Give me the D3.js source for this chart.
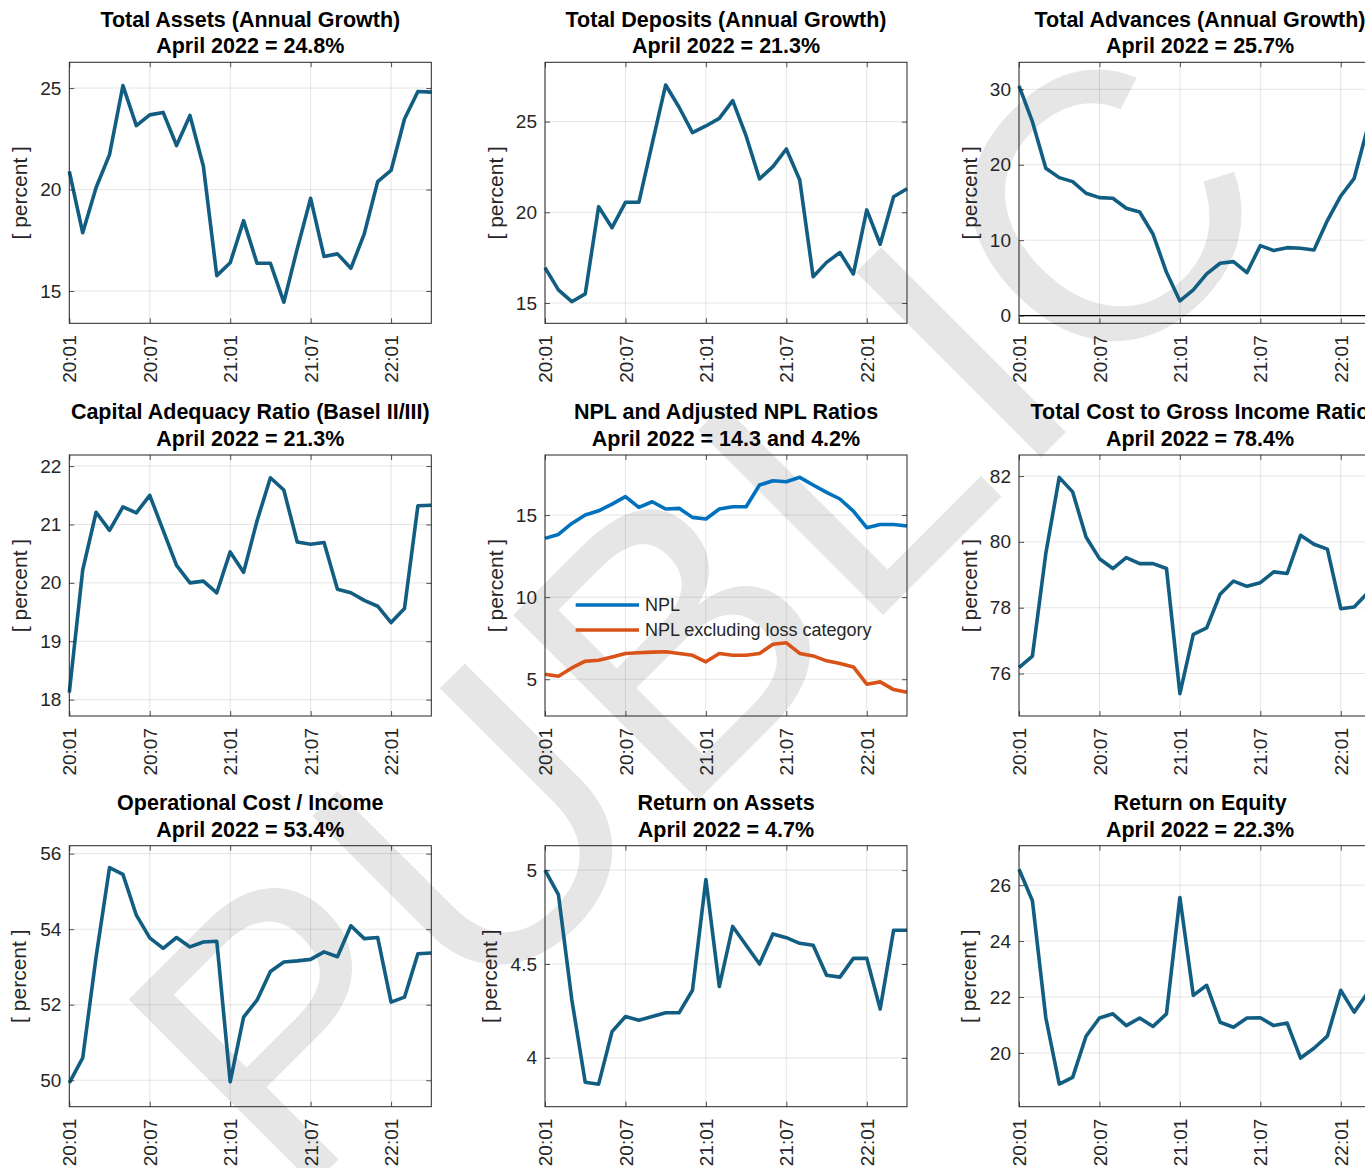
<!DOCTYPE html>
<html>
<head>
<meta charset="utf-8">
<script src="https://cdn.jsdelivr.net/npm/d3@7"></script>
<style>
  html, body { margin: 0; padding: 0; background: #fff; overflow: hidden; }
  svg { display: block; font-family: "Liberation Sans", Arial, Helvetica, sans-serif; }
</style>
</head>
<body>
<svg id="chart" width="1365" height="1168"></svg>
<script>
// ---------- data ----------
const months = ["20:01","20:02","20:03","20:04","20:05","20:06","20:07","20:08","20:09","20:10","20:11","20:12",
                "21:01","21:02","21:03","21:04","21:05","21:06","21:07","21:08","21:09","21:10","21:11","21:12",
                "22:01","22:02","22:03","22:04"];
const xTickIdx = [0, 6, 12, 18, 24];

const totalAssets   = [20.9,17.87,20.1,21.72,25.12,23.15,23.68,23.8,22.17,23.65,21.15,15.76,16.39,18.47,16.37,16.37,14.45,17.08,19.57,16.7,16.83,16.12,17.82,20.39,20.94,23.48,24.83,24.8];
const totalDeposits = [16.95,15.72,15.07,15.5,20.31,19.15,20.55,20.55,23.8,27.02,25.79,24.39,24.76,25.18,26.16,24.21,21.84,22.52,23.49,21.78,16.45,17.24,17.78,16.6,20.13,18.24,20.86,21.3];
const totalAdvances = [30.45,25.7,19.53,18.29,17.76,16.22,15.64,15.55,14.23,13.74,10.78,5.74,1.94,3.4,5.52,6.94,7.16,5.7,9.28,8.62,9.01,8.93,8.7,12.6,15.86,18.2,24.9,25.7];
const car           = [18.12,20.22,21.21,20.9,21.3,21.2,21.5,20.9,20.3,20.0,20.03,19.83,20.53,20.18,21.06,21.8,21.59,20.7,20.66,20.69,19.89,19.83,19.7,19.6,19.32,19.56,21.32,21.33];
const npl           = [13.58,13.82,14.49,15.0,15.26,15.67,16.12,15.47,15.81,15.37,15.41,14.86,14.76,15.37,15.51,15.51,16.83,17.09,17.03,17.3,16.83,16.38,15.98,15.24,14.23,14.43,14.43,14.33];
const nplAdj        = [5.3,5.18,5.69,6.1,6.16,6.36,6.57,6.61,6.65,6.67,6.57,6.46,6.06,6.57,6.46,6.46,6.57,7.13,7.22,6.57,6.42,6.12,5.96,5.75,4.7,4.84,4.37,4.2];
const costIncome    = [76.18,76.53,79.65,81.96,81.52,80.15,79.49,79.19,79.52,79.34,79.34,79.19,75.39,77.19,77.39,78.41,78.81,78.65,78.76,79.09,79.04,80.2,79.93,79.78,77.97,78.02,78.45,78.4];
const opCost        = [49.93,50.59,53.27,55.63,55.45,54.37,53.77,53.49,53.78,53.53,53.66,53.68,49.96,51.67,52.12,52.88,53.13,53.16,53.2,53.4,53.27,54.09,53.75,53.78,52.07,52.2,53.35,53.37];
const roa           = [5.0,4.87,4.31,3.87,3.86,4.14,4.22,4.2,4.22,4.24,4.24,4.36,4.95,4.38,4.7,4.6,4.5,4.66,4.64,4.61,4.6,4.44,4.43,4.53,4.53,4.26,4.68,4.68];
const roe           = [26.57,25.44,21.26,18.89,19.13,20.6,21.25,21.4,20.98,21.25,20.95,21.4,25.56,22.06,22.42,21.1,20.92,21.25,21.26,20.98,21.07,19.82,20.17,20.6,22.24,21.46,22.15,22.3];

const titles = [
  ["Total Assets (Annual Growth)", "April 2022 = 24.8%"],
  ["Total Deposits (Annual Growth)", "April 2022 = 21.3%"],
  ["Total Advances (Annual Growth)", "April 2022 = 25.7%"],
  ["Capital Adequacy Ratio (Basel II/III)", "April 2022 = 21.3%"],
  ["NPL and Adjusted NPL Ratios", "April 2022 = 14.3 and 4.2%"],
  ["Total Cost to Gross Income Ratio", "April 2022 = 78.4%"],
  ["Operational Cost / Income", "April 2022 = 53.4%"],
  ["Return on Assets", "April 2022 = 4.7%"],
  ["Return on Equity", "April 2022 = 22.3%"]
];
const yDomains = [[13.41,26.27],[13.88,28.27],[-1.02,33.58],[17.72,22.19],[2.76,18.66],[74.71,82.64],[49.3,56.21],[3.74,5.13],[18.08,27.41]];
const yTicks = [[15,20,25],[15,20,25],[0,10,20,30],[18,19,20,21,22],[5,10,15],[76,78,80,82],[50,52,54,56],[4,4.5,5],[20,22,24,26]];
const seriesByPanel = [[totalAssets],[totalDeposits],[totalAdvances],[car],[npl,nplAdj],[costIncome],[opCost],[roa],[roe]];
const legendLabels = ["NPL", "NPL excluding loss category"];

// ---------- style / layout ----------
const mainColor = "rgb(18,94,130)";
const nplColors = ["#0072BD", "#D95319"];
const axisColor = "#262626";
const colLeft = [69.3, 545, 1019];
const rowTop = [62.3, 455, 845.7];
const W = 362, H = 261;

const svg = d3.select("#chart");
svg.append("rect").attr("width", 1365).attr("height", 1168).attr("fill", "#fff");

// watermark
svg.append("text")
  .attr("transform", "translate(291.5,1206.5) rotate(-45)")
  .attr("font-size", 380)
  .attr("letter-spacing", 8)
  .attr("fill", "#e6e6e6")
  .text("PUBLIC");

const x = d3.scaleLinear().domain([0, months.length - 1]).range([0, W]);

seriesByPanel.forEach((seriesList, p) => {
  const r = Math.floor(p / 3), c = p % 3;
  const g = svg.append("g").attr("transform", `translate(${colLeft[c]},${rowTop[r]})`);
  const y = d3.scaleLinear().domain(yDomains[p]).range([H, 0]);

  // grid
  const grid = g.append("g").attr("stroke", axisColor).attr("stroke-opacity", 0.15).attr("stroke-width", 0.8);
  xTickIdx.forEach(i => grid.append("line").attr("x1", x(i)).attr("x2", x(i)).attr("y1", 0).attr("y2", H));
  yTicks[p].forEach(v => grid.append("line").attr("x1", 0).attr("x2", W).attr("y1", y(v)).attr("y2", y(v)));

  // zero line
  if (yDomains[p][0] < 0) {
    g.append("line").attr("x1", 0).attr("x2", W).attr("y1", y(0)).attr("y2", y(0))
      .attr("stroke", "#000").attr("stroke-width", 1.2);
  }

  // lines
  const line = d3.line().x((d, i) => x(i)).y(d => y(d));
  seriesList.forEach((s, k) => {
    const col = seriesList.length > 1 ? nplColors[k] : mainColor;
    g.append("path").datum(s).attr("d", line).attr("fill", "none")
      .attr("stroke", col).attr("stroke-width", 3.6).attr("stroke-linejoin", "round");
  });

  // axes
  const xb = g.append("g").attr("transform", `translate(0,${H})`)
    .call(d3.axisBottom(x).tickValues(xTickIdx).tickFormat(i => months[i]).tickSize(-5).tickPadding(0));
  xb.selectAll("text")
    .attr("x", 0).attr("y", 0).attr("dy", "0.35em")
    .attr("text-anchor", "end")
    .attr("transform", "translate(0,12) rotate(-90)");
  g.append("g").call(d3.axisTop(x).tickValues(xTickIdx).tickFormat("").tickSize(-5));
  const yl = g.append("g").call(d3.axisLeft(y).tickValues(yTicks[p]).tickFormat(d3.format("~g")).tickSize(-5).tickPadding(8));
  g.append("g").attr("transform", `translate(${W},0)`).call(d3.axisRight(y).tickValues(yTicks[p]).tickFormat("").tickSize(-5));

  g.selectAll(".domain").remove();
  g.selectAll(".tick line").attr("stroke", axisColor).attr("stroke-width", 0.8);
  g.selectAll(".tick text").attr("fill", axisColor).attr("font-size", 19)
    .attr("font-family", "'Liberation Sans', Arial, Helvetica, sans-serif");

  // box
  g.append("rect").attr("width", W).attr("height", H).attr("fill", "none")
    .attr("stroke", axisColor).attr("stroke-width", 1);

  // y label
  let maxW = 0;
  yl.selectAll("text").each(function() { maxW = Math.max(maxW, this.getBBox().width); });
  const lx = -8 - maxW - 13.3;
  g.append("text").attr("transform", `translate(${lx},${H / 2}) rotate(-90)`)
    .attr("text-anchor", "middle").attr("font-size", 21).attr("fill", axisColor)
    .text("[ percent ]");

  // title
  titles[p].forEach((t, k) => {
    g.append("text").attr("x", W / 2).attr("y", k === 0 ? -35.6 : -9)
      .attr("text-anchor", "middle").attr("font-size", 21.5).attr("font-weight", "bold")
      .attr("fill", "#000").text(t);
  });

  // legend
  if (seriesList.length > 1) {
    legendLabels.forEach((lab, k) => {
      const ly = 150 + k * 25;
      g.append("line").attr("x1", 30.7).attr("x2", 94).attr("y1", ly).attr("y2", ly)
        .attr("stroke", nplColors[k]).attr("stroke-width", 3.6);
      g.append("text").attr("x", 100).attr("y", ly).attr("dy", "0.35em")
        .attr("font-size", 18).attr("fill", axisColor).text(lab);
    });
  }
});
</script>
</body>
</html>
